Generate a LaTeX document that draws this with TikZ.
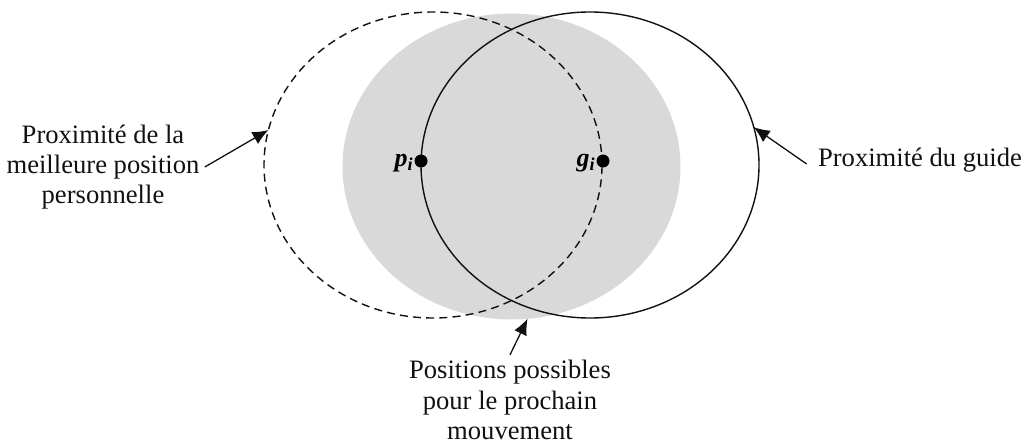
\documentclass[tikz,border=0pt]{standalone}
\usepackage{fontspec}
\setmainfont{Liberation Serif}
\usetikzlibrary{arrows.meta,positioning,shapes.geometric}
\definecolor{Zone}{HTML}{D9D9D9}
\definecolor{Ink}{HTML}{111111}

\begin{document}
\begin{tikzpicture}[
  x=0.5pt,y=-0.5pt,
  zone/.style={ellipse,inner sep=0pt,outer sep=0pt,minimum width=169pt,minimum height=153pt},
  dot/.style={circle,fill=black,inner sep=0pt,minimum size=6.5pt},
  txt/.style={font=\fontsize{13.3}{15.2}\selectfont,text=Ink,align=center,inner sep=2.5pt},
  lbl/.style={font=\fontsize{13}{15}\selectfont\bfseries\itshape,inner sep=0pt},
  arr/.style={-{Latex[length=2.8mm,width=2.4mm]},line width=0.65pt,draw=Ink}
]
\useasboundingbox (0,0) rectangle (1021,443);
\node[zone,fill=Zone] (poss) at (511.5,166.5) {};
\node[zone,draw=Ink,line width=0.7pt,dash pattern=on 4pt off 2.6pt] (perso) at (433,165) {};
\node[zone,draw=Ink,line width=0.7pt] (guide) at (590,165) {};
\node[dot] (p) at (421,161) {};
\node[dot] (g) at (603,161) {};
\node[lbl,left=0pt of p,yshift=-1pt] (plbl) {p\textsubscript{i}};
\node[lbl,left=0pt of g,yshift=-1pt] (glbl) {g\textsubscript{i}};
\node[txt] (persotxt) at (103,167) {Proximité de la\\meilleure position\\personnelle};
\node[txt] (guidetxt) at (920,160) {Proximité du guide};
\node[txt] (posstxt) at (510,400) {Positions possibles\\pour le prochain\\mouvement};
\draw[arr] (persotxt.east) -- (perso.168);
\draw[arr] ([xshift=-3pt,yshift=-2pt]guidetxt.west) -- (guide.13);
\draw[arr] (posstxt.north) -- (poss.-84);
\end{tikzpicture}
\end{document}
